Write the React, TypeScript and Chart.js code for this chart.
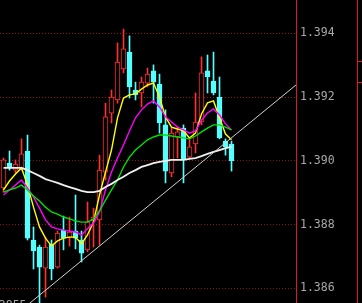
import React, { useEffect, useRef } from "react";
import { Chart, registerables } from "chart.js";

Chart.register(...registerables);

// ---- candle data (price) ----
const OPEN = [
  1.38915, 1.38993, 1.38971, 1.38978, 1.39031, 1.38752, 1.3873, 1.38664, 1.38739, 1.38667,
  1.38783, 1.38761, 1.3878, 1.38752, 1.38721, 1.38812, 1.38815, 1.38965, 1.3915, 1.39191,
  1.39288, 1.39341, 1.39222, 1.39213, 1.39244, 1.39282, 1.39241, 1.39113, 1.38962, 1.39075,
  1.39103, 1.39012, 1.39053, 1.39122, 1.39282, 1.3925, 1.392, 1.39062, 1.39053,
];
const HIGH = [
  1.39009, 1.39031, 1.39003, 1.39069, 1.39081, 1.38793, 1.38736, 1.38761, 1.38752, 1.3878,
  1.38827, 1.38824, 1.38893, 1.3878, 1.38871, 1.38852, 1.39018, 1.39181, 1.39222, 1.3937,
  1.39413, 1.39392, 1.39247, 1.39263, 1.39291, 1.39301, 1.39272, 1.3916, 1.39103, 1.39106,
  1.39113, 1.39072, 1.39213, 1.39326, 1.39332, 1.39341, 1.39263, 1.39069, 1.39062,
];
const LOW = [
  1.38902, 1.38971, 1.38962, 1.38971, 1.38752, 1.38661, 1.38554, 1.38573, 1.38627, 1.38664,
  1.38721, 1.38733, 1.38724, 1.38683, 1.38715, 1.3873, 1.38736, 1.3894, 1.39119, 1.39181,
  1.39276, 1.39197, 1.39191, 1.39169, 1.39232, 1.39181, 1.39087, 1.38931, 1.3895, 1.39009,
  1.38931, 1.39009, 1.39025, 1.39113, 1.39213, 1.39207, 1.39069, 1.39018, 1.38968,
];
const CLOSE = [
  1.39003, 1.38981, 1.3899, 1.39022, 1.38758, 1.38718, 1.38667, 1.3873, 1.38661, 1.38774,
  1.38758, 1.38777, 1.38758, 1.38711, 1.38809, 1.38824, 1.38971, 1.39138, 1.392, 1.3931,
  1.39351, 1.39232, 1.39207, 1.39247, 1.39272, 1.39247, 1.39119, 1.38968, 1.39087, 1.39091,
  1.39003, 1.39044, 1.39122, 1.39276, 1.39263, 1.39213, 1.39072, 1.39044, 1.39,
];

// ---- moving average lines ----
const MA_YELLOW = [
  1.38909, 1.38937, 1.38959, 1.38978, 1.38924, 1.38855, 1.38793, 1.38758, 1.38733, 1.38749,
  1.38758, 1.38761, 1.38761, 1.3874, 1.38768, 1.38808, 1.38893, 1.38965, 1.39034, 1.39135,
  1.39197, 1.39207, 1.3921, 1.39225, 1.39238, 1.39244, 1.392, 1.39138, 1.39106, 1.391,
  1.39094, 1.39072, 1.39087, 1.39147, 1.39182, 1.39188, 1.39135, 1.39084, 1.39066,
];
const MA_MAGENTA = [
  1.38893, 1.38909, 1.38924, 1.3894, 1.38915, 1.38887, 1.38852, 1.38815, 1.38793, 1.38787,
  1.38783, 1.3878, 1.38777, 1.38768, 1.38787, 1.38805, 1.3884, 1.38909, 1.38965, 1.39009,
  1.3905, 1.39094, 1.39135, 1.3916, 1.39178, 1.39188, 1.39169, 1.39138, 1.39122, 1.39106,
  1.39097, 1.39087, 1.39094, 1.39128, 1.3915, 1.39163, 1.39144, 1.39116, 1.39097,
];
const MA_GREEN = [
  1.38902, 1.38909, 1.38915, 1.38924, 1.38909, 1.3889, 1.38874, 1.38855, 1.3884, 1.38833,
  1.38824, 1.38818, 1.38812, 1.38808, 1.38808, 1.38818, 1.38843, 1.38877, 1.38909, 1.3894,
  1.38981, 1.39012, 1.39034, 1.3905, 1.39066, 1.39075, 1.39081, 1.39081, 1.39078, 1.39075,
  1.39072, 1.39069, 1.39078, 1.39091, 1.39103, 1.39113, 1.39113, 1.39106, 1.39097,
];
const MA_WHITE = [
  1.38978, 1.38978, 1.38978, 1.38978, 1.38971, 1.38962, 1.38953, 1.38943, 1.38937, 1.38931,
  1.38924, 1.38918, 1.38912, 1.38906, 1.38902, 1.38902, 1.38906, 1.38918, 1.38928, 1.3894,
  1.3895, 1.38962, 1.38971, 1.38981, 1.38987, 1.38993, 1.38997, 1.39, 1.39003, 1.39003,
  1.39003, 1.39006, 1.39009, 1.39015, 1.39022, 1.39028, 1.39034, 1.3904, 1.39044,
];

// ---- trend line (two anchor points: bar index, price) ----
const TREND_X = [2.75, 48.75];
const TREND_Y = [1.38529, 1.39238];

// ---- axis ----
const Y_TICKS = [1.386, 1.388, 1.39, 1.392, 1.394];
const Y_MIN = 1.385545;
const Y_MAX = 1.395044;
const X_MIN = -0.58333;
const X_MAX = 48.75;

const UP = "#ff3030";
const DOWN = "#54ffff";
const FRAME_RED = "#e01818";
const GRID_RED = "#9a1414";
const LABEL_GRAY = "#a8a8a8";
const MONO = "'DejaVu Sans Mono', 'Liberation Mono', monospace";

const isUp = (i: number) => CLOSE[i] >= OPEN[i];

const decorPlugin = {
  id: "decor",
  beforeDraw(chart: any) {
    const { ctx, width, height } = chart;
    ctx.save();
    ctx.fillStyle = "#000000";
    ctx.fillRect(0, 0, width, height);
    ctx.restore();
  },
  afterDraw(chart: any) {
    const { ctx, chartArea, height } = chart;
    ctx.save();
    // outer right frame line and small scroll marks
    const xr = Math.round(chartArea.right + 61) + 0.5;
    ctx.strokeStyle = FRAME_RED;
    ctx.lineWidth = 1;
    ctx.beginPath();
    ctx.moveTo(xr, 0);
    ctx.lineTo(xr, height);
    ctx.moveTo(xr, 61.5);
    ctx.lineTo(chart.width, 61.5);
    ctx.moveTo(xr, 82.5);
    ctx.lineTo(chart.width, 82.5);
    ctx.stroke();
    // lowest price annotation
    const minLow = Math.min(...LOW);
    const idx = LOW.indexOf(minLow);
    const px = chart.scales.x.getPixelForValue(idx);
    const py = chart.scales.y.getPixelForValue(minLow);
    ctx.font = `11.5px ${MONO}`;
    ctx.fillStyle = LABEL_GRAY;
    ctx.textAlign = "right";
    ctx.textBaseline = "alphabetic";
    ctx.fillText(minLow.toFixed(4), px - 13, py + 5.5);
    ctx.restore();
  },
};

export default function App() {
  const ref = useRef<HTMLCanvasElement | null>(null);

  useEffect(() => {
    document.body.style.margin = "0";
    document.body.style.background = "#000";
    const canvas = ref.current;
    if (!canvas) return;

    const idx = OPEN.map((_, i) => i);

    const lineDs = (data: number[], color: string, width: number) => ({
      type: "line" as const,
      data: data.map((v, i) => ({ x: i, y: v })),
      borderColor: color,
      borderWidth: width,
      pointRadius: 0,
      tension: 0,
      fill: false,
      order: 0,
    });

    const chart = new Chart(canvas, {
      type: "bar",
      data: {
        datasets: [
          {
            type: "line",
            data: TREND_X.map((x, i) => ({ x, y: TREND_Y[i] })),
            borderColor: "#d0d0d0",
            borderWidth: 1,
            pointRadius: 0,
            tension: 0,
            fill: false,
            order: 0,
          } as any,
          lineDs(MA_WHITE, "#f0f0f0", 1.8),
          lineDs(MA_GREEN, "#00e000", 1.4),
          lineDs(MA_MAGENTA, "#ff00ff", 1.4),
          lineDs(MA_YELLOW, "#ffff00", 1.4),
          {
            type: "bar",
            data: idx.map((i) => ({ x: i, y: [OPEN[i], CLOSE[i]] })),
            backgroundColor: idx.map((i) => (isUp(i) ? "#000000" : DOWN)),
            borderColor: idx.map((i) => (isUp(i) ? UP : DOWN)),
            borderWidth: 1,
            borderSkipped: false,
            barThickness: 5,
            grouped: false,
            order: 1,
          } as any,
          {
            type: "bar",
            data: idx.map((i) => ({ x: i, y: [LOW[i], HIGH[i]] })),
            backgroundColor: idx.map((i) => (isUp(i) ? UP : DOWN)),
            borderWidth: 0,
            barThickness: 1,
            grouped: false,
            order: 2,
          } as any,
        ],
      },
      options: {
        responsive: false,
        animation: false,
        devicePixelRatio: 1,
        layout: { padding: 0 },
        plugins: { legend: { display: false }, tooltip: { enabled: false } },
        scales: {
          x: {
            type: "linear",
            min: X_MIN,
            max: X_MAX,
            offset: false,
            display: false,
          },
          y: {
            type: "linear",
            position: "right",
            min: Y_MIN,
            max: Y_MAX,
            afterFit: (scale: any) => {
              scale.width = 66;
              scale.paddingTop = 0;
              scale.paddingBottom = 0;
            },
            afterBuildTicks: (scale: any) => {
              scale.ticks = Y_TICKS.map((v) => ({ value: v }));
            },
            grid: {
              color: GRID_RED,
              lineWidth: 1,
              drawTicks: false,
            },
            border: {
              display: true,
              color: FRAME_RED,
              width: 1,
              dash: [1, 2],
            },
            ticks: {
              color: LABEL_GRAY,
              padding: 4,
              font: { family: MONO, size: 11.5 },
              callback: (v: any) => Number(v).toFixed(3),
            },
          },
        },
      },
      plugins: [decorPlugin],
    } as any);

    return () => chart.destroy();
  }, []);

  return (
    <div style={{ width: 362, height: 303, background: "#000" }}>
      <canvas ref={ref} width={362} height={303} style={{ display: "block" }} />
    </div>
  );
}
